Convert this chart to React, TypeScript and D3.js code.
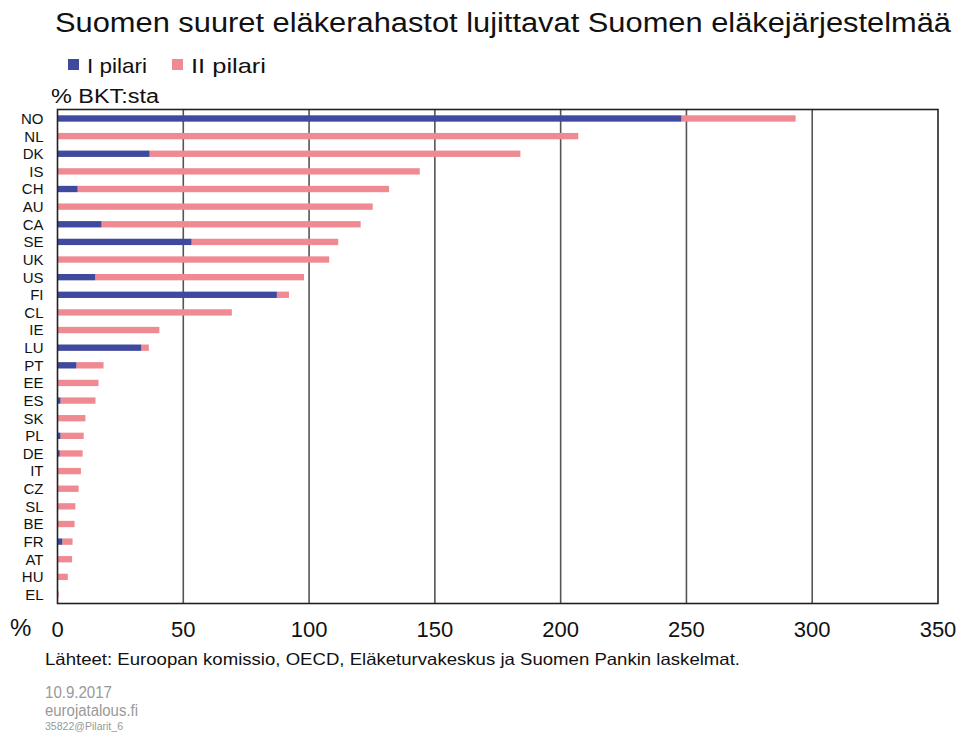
import React, { useEffect, useRef } from 'react';
import * as d3 from 'd3';

const countries = ['NO', 'NL', 'DK', 'IS', 'CH', 'AU', 'CA', 'SE', 'UK', 'US', 'FI', 'CL', 'IE', 'LU', 'PT', 'EE', 'ES', 'SK', 'PL', 'DE', 'IT', 'CZ', 'SL', 'BE', 'FR', 'AT', 'HU', 'EL'];
// I pilari (first pillar) funds, % of GDP
const pillar1 = [248, 0, 36.6, 0, 8, 0, 17.5, 53.3, 0, 15, 87.2, 0, 0, 33.3, 7.5, 0, 1.2, 0, 1.2, 0.9, 0, 0, 0, 0, 1.9, 0, 0, 0];
// II pilari (second pillar) funds, % of GDP
const pillar2 = [45.4, 207, 147.4, 144, 123.8, 125.3, 103, 58.3, 108, 83, 4.8, 69.3, 40.5, 3, 10.8, 16.3, 13.9, 11.1, 9.2, 9.1, 9.3, 8.4, 7.1, 6.8, 4.1, 5.8, 4.1, 0.5];
const xTicks = [0, 50, 100, 150, 200, 250, 300, 350];

const BLUE = '#3f4a9e';
const PINK = '#f08a92';
const FONT = '"Liberation Sans", Arial, sans-serif';

const App = () => {
  const svgRef = useRef();

  useEffect(() => {
    const width = 960;
    const height = 733;
    const margin = { top: 109.5, right: 22, bottom: 129.5, left: 57.5 };
    const chartWidth = width - margin.left - margin.right;
    const chartHeight = height - margin.top - margin.bottom;

    const svg = d3.select(svgRef.current);
    svg.selectAll('*').remove();
    svg.attr('width', width).attr('height', height);

    svg.append('rect').attr('width', width).attr('height', height).attr('fill', '#fff');

    // stretched text helper (the original art is a bit wider than Arial)
    const label = (x, y, size, color, str, len) => {
      const t = svg.append('text')
        .attr('x', x).attr('y', y)
        .style('font-family', FONT).style('font-size', `${size}px`).attr('fill', color)
        .text(str);
      if (len) t.attr('textLength', len).attr('lengthAdjust', 'spacingAndGlyphs');
      return t;
    };

    // Title, legend, unit label
    label(55, 32, 27, '#111', 'Suomen suuret eläkerahastot lujittavat Suomen eläkejärjestelmää', 896);

    const legend = [
      { label: 'I pilari', color: BLUE, x: 68, len: 60 },
      { label: 'II pilari', color: PINK, x: 172, len: 75 }
    ];
    legend.forEach(l => {
      svg.append('rect').attr('x', l.x).attr('y', 59).attr('width', 11).attr('height', 11).attr('fill', l.color);
      label(l.x + 19, 73, 21, '#111', l.label, l.len);
    });

    label(51, 103, 20, '#111', '% BKT:sta', 108);

    const g = svg.append('g').attr('transform', `translate(${margin.left},${margin.top})`);

    const xScale = d3.scaleLinear().domain([0, 350]).range([0, chartWidth]);
    const yScale = d3.scaleBand().domain(countries).range([0, chartHeight]).paddingInner(0.64).paddingOuter(0.33);

    // vertical grid lines
    g.selectAll('.grid-line-x')
      .data(xTicks.slice(1, -1))
      .enter()
      .append('line')
      .attr('x1', d => xScale(d)).attr('x2', d => xScale(d))
      .attr('y1', 0).attr('y2', chartHeight)
      .attr('stroke', '#555').attr('stroke-width', 1.6);

    // stacked bars
    const rows = countries.map((c, i) => ({ c, p1: pillar1[i], p2: pillar2[i] }));
    g.selectAll('.bar-p2')
      .data(rows)
      .enter().append('rect')
      .attr('x', d => xScale(d.p1))
      .attr('y', d => yScale(d.c))
      .attr('width', d => xScale(d.p1 + d.p2) - xScale(d.p1))
      .attr('height', yScale.bandwidth())
      .attr('fill', PINK);

    g.selectAll('.bar-p1')
      .data(rows.filter(d => d.p1 > 0))
      .enter().append('rect')
      .attr('x', xScale(0))
      .attr('y', d => yScale(d.c))
      .attr('width', d => xScale(d.p1) - xScale(0))
      .attr('height', yScale.bandwidth())
      .attr('fill', BLUE);

    // frame
    g.append('rect')
      .attr('width', chartWidth).attr('height', chartHeight)
      .attr('fill', 'none').attr('stroke', '#222').attr('stroke-width', 1.6);

    // category labels
    g.selectAll('.cat')
      .data(countries)
      .enter().append('text')
      .attr('x', -14)
      .attr('y', d => yScale(d) + yScale.bandwidth() / 2)
      .attr('dy', '0.36em')
      .attr('text-anchor', 'end')
      .style('font-family', FONT).style('font-size', '15px').attr('fill', '#111')
      .text(d => d);

    // x axis labels
    g.selectAll('.tick-label')
      .data(xTicks)
      .enter().append('text')
      .attr('x', d => xScale(d))
      .attr('y', chartHeight + 33)
      .attr('text-anchor', 'middle')
      .style('font-family', FONT).style('font-size', '22px').attr('fill', '#111')
      .text(d => d);

    label(10, 636, 24, '#111', '%');

    label(45, 665, 16.5, '#111', 'Lähteet: Euroopan komissio, OECD, Eläketurvakeskus ja Suomen Pankin laskelmat.', 695);

    label(45, 698, 16, '#999', '10.9.2017', 67);
    label(45, 716, 16, '#999', 'eurojatalous.fi', 93);
    label(45, 730, 11, '#999', '35822@Pilarit_6', 78);
  }, []);

  return (
    <svg ref={svgRef} style={{ position: 'absolute', left: 0, top: 0, display: 'block' }}></svg>
  );
};

export default App;
